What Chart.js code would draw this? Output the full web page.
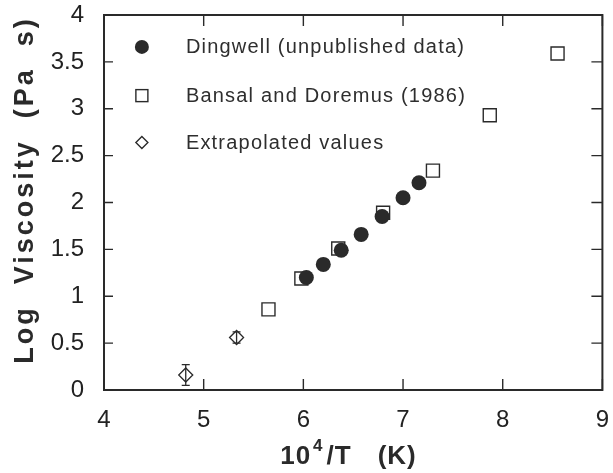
<!DOCTYPE html>
<html><head><meta charset="utf-8">
<script src="https://cdn.jsdelivr.net/npm/chart.js@4.4.1/dist/chart.umd.min.js"></script>
<style>html,body{margin:0;padding:0;background:#fff}canvas{display:block}</style>
</head><body>
<canvas id="c" width="613" height="473"></canvas>
<script>
// ---- data ----
const dingwellX = [6.03, 6.20, 6.38, 6.58, 6.79, 7.00, 7.16];
const dingwellY = [1.20, 1.34, 1.49, 1.66, 1.85, 2.05, 2.21];
const bansalX   = [5.65, 5.98, 6.35, 6.80, 7.30, 7.87, 8.55];
const bansalY   = [0.86, 1.19, 1.51, 1.89, 2.34, 2.93, 3.59];
const extrapX   = [4.82, 5.33];
const extrapY   = [0.16, 0.56];
const extrapErr = [0.11, 0.06];
const xTicks = [4, 5, 6, 7, 8, 9];
const yTicks = [0, 0.5, 1, 1.5, 2, 2.5, 3, 3.5, 4];
const legendLabels = ['Dingwell (unpublished data)', 'Bansal and Doremus (1986)', 'Extrapolated values'];
const yTitle = 'Log  Viscosity  (Pa  s)';
const xTitleParts = ['10', '4', '/T', '(K)'];

const INK = '#2a2a2a';
const FONT = '"Liberation Sans", Arial, Helvetica, sans-serif';

const pts = (xs, ys) => xs.map((x, i) => ({x: x, y: ys[i]}));

const framePlugin = {
  id: 'frame',
  afterDatasetsDraw(chart) {
    const ctx = chart.ctx, xs = chart.scales.x, ys = chart.scales.y;
    ctx.save();
    ctx.strokeStyle = INK; ctx.lineWidth = 1.3;
    extrapX.forEach((xv, i) => {
      const px = xs.getPixelForValue(xv);
      const top = ys.getPixelForValue(extrapY[i] + extrapErr[i]);
      const bot = ys.getPixelForValue(extrapY[i] - extrapErr[i]);
      ctx.beginPath();
      ctx.moveTo(px, top); ctx.lineTo(px, bot);
      ctx.moveTo(px - 4, top); ctx.lineTo(px + 4, top);
      ctx.moveTo(px - 4, bot); ctx.lineTo(px + 4, bot);
      ctx.stroke();
    });
    ctx.restore();
  },
  afterDraw(chart) {
    const ctx = chart.ctx, a = chart.chartArea, xs = chart.scales.x, ys = chart.scales.y;
    ctx.save();
    ctx.strokeStyle = INK; ctx.lineWidth = 2;
    ctx.strokeRect(a.left, a.top, a.right - a.left, a.bottom - a.top);
    ctx.lineWidth = 1.4;
    ctx.beginPath();
    xTicks.forEach(v => {
      const px = xs.getPixelForValue(v);
      ctx.moveTo(px, a.bottom); ctx.lineTo(px, a.bottom - 11);
      ctx.moveTo(px, a.top); ctx.lineTo(px, a.top + 11);
    });
    yTicks.forEach(v => {
      const py = ys.getPixelForValue(v);
      ctx.moveTo(a.left, py); ctx.lineTo(a.left + 9, py);
      ctx.moveTo(a.right, py); ctx.lineTo(a.right - 11, py);
    });
    ctx.stroke();

    // legend inside plot
    const lx = xs.getPixelForValue(4.38);
    const rows = [ys.getPixelForValue(3.66), ys.getPixelForValue(3.14), ys.getPixelForValue(2.64)];
    ctx.fillStyle = INK; ctx.strokeStyle = INK; ctx.lineWidth = 1.4;
    ctx.beginPath(); ctx.arc(lx, rows[0], 7, 0, Math.PI * 2); ctx.fill();
    ctx.strokeRect(lx - 6, rows[1] - 6, 12, 12);
    ctx.beginPath();
    ctx.moveTo(lx - 6, rows[2]); ctx.lineTo(lx, rows[2] - 6);
    ctx.lineTo(lx + 6, rows[2]); ctx.lineTo(lx, rows[2] + 6); ctx.closePath();
    ctx.stroke();
    ctx.font = '20px ' + FONT;
    ctx.letterSpacing = '1.2px';
    ctx.textAlign = 'left'; ctx.textBaseline = 'middle';
    ctx.fillStyle = '#2e2e2e';
    legendLabels.forEach((t, i) => ctx.fillText(t, lx + 44, rows[i] + 1));

    // y title (rotated)
    ctx.font = 'bold 27px ' + FONT;
    ctx.letterSpacing = '3px';
    ctx.fillStyle = INK;
    ctx.translate(33, 190);
    ctx.rotate(-Math.PI / 2);
    ctx.textAlign = 'center'; ctx.textBaseline = 'alphabetic';
    ctx.fillText(yTitle, 0, 0);
    ctx.setTransform(1, 0, 0, 1, 0, 0);

    // x title: 10^4/T  (K)
    const cx = (a.left + a.right) / 2;
    ctx.textAlign = 'left';
    ctx.letterSpacing = '1px';
    ctx.font = 'bold 26px ' + FONT;
    let x0 = cx - 73, base = 464;
    ctx.fillText(xTitleParts[0], x0, base);
    x0 += ctx.measureText(xTitleParts[0]).width + 2;
    ctx.font = 'bold 17px ' + FONT;
    ctx.fillText(xTitleParts[1], x0, base - 13);
    x0 += ctx.measureText(xTitleParts[1]).width + 3;
    ctx.font = 'bold 26px ' + FONT;
    ctx.fillText(xTitleParts[2], x0, base);
    x0 += ctx.measureText(xTitleParts[2]).width + 26;
    ctx.fillText(xTitleParts[3], x0, base);
    ctx.restore();
  }
};

const tickFmt = v => String(v);

new Chart(document.getElementById('c'), {
  type: 'scatter',
  data: {
    datasets: [
      { label: legendLabels[0], data: pts(dingwellX, dingwellY), pointStyle: 'circle', pointRadius: 7.5,
        backgroundColor: INK, borderColor: INK, borderWidth: 0 },
      { label: legendLabels[1], data: pts(bansalX, bansalY), pointStyle: 'rect', pointRadius: 9.2,
        backgroundColor: 'rgba(255,255,255,0)', borderColor: INK, borderWidth: 1.4 },
      { label: legendLabels[2], data: pts(extrapX, extrapY), pointStyle: 'rectRot', pointRadius: 7,
        backgroundColor: 'rgba(255,255,255,0)', borderColor: INK, borderWidth: 1.3 }
    ]
  },
  options: {
    responsive: false,
    animation: false,
    events: [],
    layout: { padding: { left: 0, right: 5, top: 15, bottom: 0 } },
    plugins: { legend: { display: false }, tooltip: { enabled: false } },
    scales: {
      x: {
        type: 'linear', min: 4, max: 9,
        grid: { display: false, drawTicks: false },
        border: { display: false },
        afterBuildTicks: s => { s.ticks = xTicks.map(v => ({ value: v })); },
        afterFit: s => { s.height = 83; s.paddingLeft = 0; s.paddingRight = 0; },
        ticks: { color: '#222', padding: 16, font: { family: FONT, size: 24 }, maxRotation: 0, autoSkip: false, callback: tickFmt }
      },
      y: {
        type: 'linear', min: 0, max: 4,
        grid: { display: false, drawTicks: false },
        border: { display: false },
        afterBuildTicks: s => { s.ticks = yTicks.map(v => ({ value: v })); },
        afterFit: s => { s.width = 104; s.paddingTop = 0; s.paddingBottom = 0; },
        ticks: { color: '#222', padding: 20, font: { family: FONT, size: 24 }, autoSkip: false, callback: tickFmt }
      }
    }
  },
  plugins: [framePlugin]
});
</script>
</body></html>
